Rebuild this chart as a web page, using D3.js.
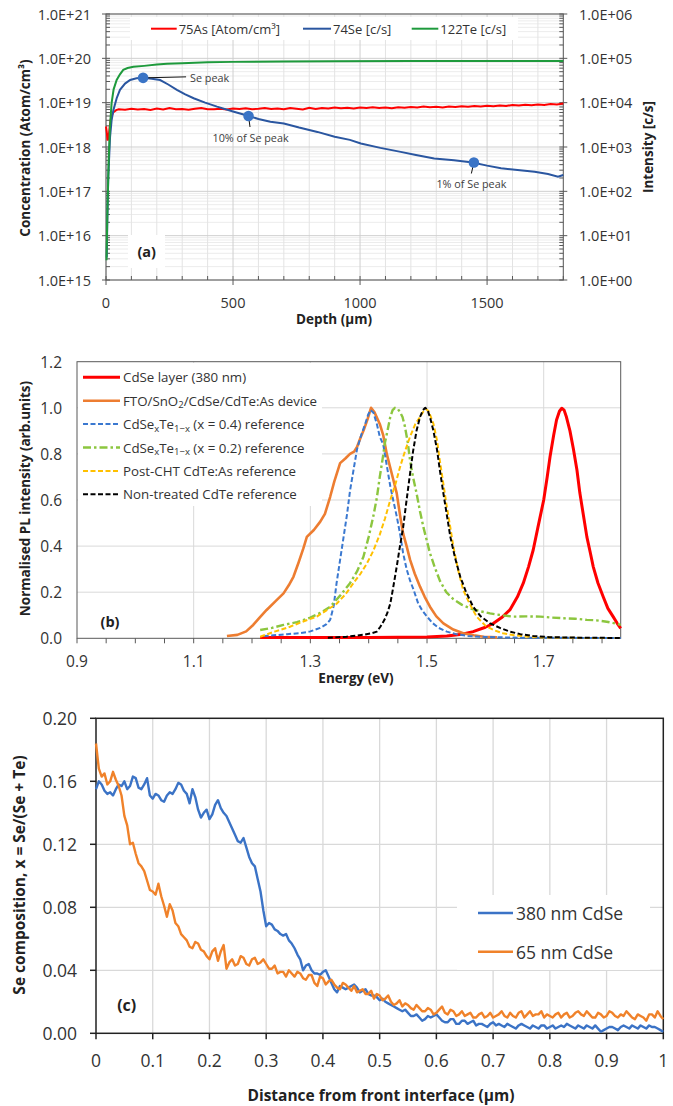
<!DOCTYPE html>
<html><head><meta charset="utf-8">
<script src="https://cdn.jsdelivr.net/npm/d3@7"></script>
<style>body{margin:0;background:#fff}svg{display:block}text{font-family:"Open Sans",sans-serif}</style>
</head><body><svg id="c" width="673" height="1106"></svg>
<script>
// ---------------- DATA ----------------
// Panel (a): SIMS depth profile  [depth, value]
const asProfile = [[0,2.9e18],[3,2.2e18],[6,1.4e18],[10,1.6e18],[15,3.0e18],[20,4.6e18],[28,6.0e18],[40,6.8e18],[50,7.1e18],
 [75,6.9e18],[100,7.3e18],[125,7.0e18],[150,7.2e18],[175,6.8e18],[200,7.4e18],[225,7.0e18],[250,7.6e18],[275,7.1e18],[300,7.2e18],
 [325,6.9e18],[350,7.3e18],[375,7.6e18],[400,7.1e18],[425,7.1e18],[450,7.3e18],[475,7.0e18],[500,7.4e18],[525,7.2e18],[550,7.5e18],
 [575,7.1e18],[600,7.3e18],[625,7.6e18],[650,7.2e18],[675,7.4e18],[700,7.1e18],[725,7.6e18],[750,7.3e18],[775,7.0e18],[800,7.7e18],
 [825,7.2e18],[850,7.6e18],[875,7.4e18],[900,7.8e18],[925,7.5e18],[950,7.7e18],[975,7.4e18],[1000,7.8e18],[1025,7.6e18],[1050,7.9e18],
 [1075,7.6e18],[1100,7.8e18],[1125,7.5e18],[1150,7.9e18],[1175,7.7e18],[1200,8.0e18],[1225,7.8e18],[1250,8.2e18],[1275,7.9e18],[1300,8.1e18],
 [1325,7.8e18],[1350,8.2e18],[1375,8.0e18],[1400,8.3e18],[1425,8.1e18],[1450,8.4e18],[1475,8.2e18],[1500,8.5e18],[1525,8.3e18],[1550,8.6e18],
 [1575,8.4e18],[1600,8.9e18],[1625,8.6e18],[1650,9.0e18],[1675,8.8e18],[1700,9.1e18],[1725,8.9e18],[1750,9.3e18],[1775,9.1e18],[1800,9.6e18]];
const seProfile = [[3,3.2],[5,20],[9,214],[16,1700],[22,4000],[29,6760],[42,12600],[55,19500],[75,26900],[95,32400],
 [120,35500],[147,36300],[180,34700],[213,32400],[245,25700],[279,19500],[310,15500],[345,12600],[390,10000],[437,8130],
 [500,6310],[562,5010],[600,4270],[647,3720],[700,3390],[760,2750],[832,2190],[900,1700],[960,1450],[1003,1200],
 [1080,955],[1160,776],[1220,661],[1292,550],[1370,501],[1443,447],[1500,380],[1555,331],[1620,302],[1687,275],
 [1740,245],[1779,214],[1800,234]];
const teProfile = [[2,2.8],[5,25],[10,400],[15,2500],[22,9770],[30,20000],[42,32400],[55,43600],[68,55000],[85,60300],
 [108,64600],[150,67600],[200,72400],[240,75900],[300,77600],[400,81300],[500,83200],[700,85100],[900,86100],[1200,87100],[1500,87100],[1800,87100]];
const seMarkers = [[146,36300],[561,5000],[1448,447]];
const seMarkerLabels = ["Se peak","10% of Se peak","1% of Se peak"];
const legendA = ["75As [Atom/cm³]","74Se [c/s]","122Te [c/s]"];
const yTickLabelsA = ["1.0E+15","1.0E+16","1.0E+17","1.0E+18","1.0E+19","1.0E+20","1.0E+21"];
const y2TickLabelsA = ["1.0E+00","1.0E+01","1.0E+02","1.0E+03","1.0E+04","1.0E+05","1.0E+06"];
const xTicksA = [0,500,1000,1500];

// Panel (b): PL spectra [energy eV, normalised intensity]
const cdseLayer = [[1.214,0.003],[1.3,0.003],[1.4,0.004],[1.5,0.006],[1.534,0.01],[1.56,0.018],[1.579,0.029],[1.6,0.048],[1.614,0.065],
 [1.628,0.09],[1.642,0.123],[1.655,0.18],[1.665,0.239],[1.674,0.31],[1.682,0.383],[1.69,0.48],[1.7,0.6],[1.706,0.70],[1.711,0.79],
 [1.717,0.88],[1.722,0.947],[1.727,0.985],[1.731,0.998],[1.735,0.99],[1.739,0.96],[1.745,0.90],[1.751,0.82],[1.757,0.73],[1.762,0.63],
 [1.768,0.535],[1.774,0.44],[1.78,0.37],[1.785,0.31],[1.793,0.24],[1.802,0.18],[1.81,0.13],[1.819,0.094],[1.826,0.065],[1.832,0.043]];
const device = [[1.157,0.01],[1.175,0.015],[1.19,0.03],[1.202,0.058],[1.213,0.09],[1.225,0.123],[1.24,0.16],[1.254,0.195],[1.263,0.23],
 [1.271,0.267],[1.28,0.33],[1.288,0.39],[1.294,0.44],[1.306,0.47],[1.317,0.506],[1.325,0.54],[1.334,0.614],[1.341,0.68],[1.351,0.76],
 [1.36,0.78],[1.368,0.80],[1.375,0.81],[1.38,0.83],[1.386,0.87],[1.391,0.90],[1.398,0.95],[1.404,1.0],[1.41,0.98],[1.419,0.93],
 [1.425,0.88],[1.431,0.80],[1.437,0.74],[1.442,0.69],[1.448,0.63],[1.454,0.53],[1.459,0.455],[1.465,0.40],[1.471,0.34],[1.479,0.28],
 [1.488,0.224],[1.496,0.18],[1.505,0.137],[1.516,0.095],[1.528,0.065],[1.545,0.038],[1.562,0.022],[1.58,0.013],[1.597,0.007],[1.62,0.004]];
const ref04 = [[1.22,0.01],[1.242,0.014],[1.26,0.018],[1.282,0.022],[1.3,0.03],[1.317,0.045],[1.327,0.06],[1.334,0.08],[1.34,0.14],
 [1.345,0.24],[1.351,0.34],[1.357,0.44],[1.363,0.54],[1.368,0.64],[1.374,0.73],[1.38,0.82],[1.387,0.88],[1.394,0.93],[1.399,0.97],
 [1.403,0.99],[1.408,0.98],[1.414,0.93],[1.419,0.875],[1.425,0.84],[1.431,0.75],[1.437,0.66],[1.442,0.60],[1.448,0.53],[1.454,0.45],
 [1.459,0.37],[1.465,0.30],[1.471,0.25],[1.477,0.21],[1.485,0.15],[1.492,0.12],[1.5,0.094],[1.51,0.065],[1.52,0.045],[1.534,0.029],
 [1.55,0.018],[1.57,0.01],[1.6,0.006],[1.65,0.003],[1.7,0.002],[1.75,0.002],[1.8,0.001],[1.832,0.001]];
const ref02 = [[1.214,0.036],[1.234,0.045],[1.254,0.058],[1.277,0.07],[1.3,0.09],[1.317,0.11],[1.334,0.137],[1.351,0.185],[1.368,0.239],
 [1.38,0.29],[1.391,0.354],[1.4,0.44],[1.408,0.53],[1.414,0.61],[1.419,0.70],[1.424,0.78],[1.428,0.85],[1.433,0.91],[1.437,0.96],
 [1.441,0.99],[1.445,1.0],[1.45,0.995],[1.454,0.98],[1.458,0.96],[1.462,0.92],[1.467,0.85],[1.471,0.77],[1.476,0.70],[1.482,0.63],
 [1.488,0.55],[1.494,0.48],[1.5,0.42],[1.505,0.37],[1.513,0.31],[1.522,0.25],[1.533,0.2],[1.545,0.17],[1.56,0.145],[1.574,0.13],
 [1.59,0.118],[1.608,0.108],[1.628,0.1],[1.648,0.094],[1.67,0.095],[1.694,0.094],[1.714,0.09],[1.734,0.087],[1.754,0.085],[1.774,0.08],
 [1.79,0.078],[1.808,0.072],[1.82,0.066],[1.832,0.058]];
const postCHT = [[1.214,0.007],[1.24,0.03],[1.265,0.05],[1.29,0.075],[1.311,0.094],[1.33,0.125],[1.345,0.15],[1.36,0.19],[1.374,0.24],
 [1.386,0.28],[1.397,0.325],[1.408,0.38],[1.419,0.45],[1.428,0.52],[1.437,0.6],[1.446,0.67],[1.454,0.745],[1.462,0.81],[1.471,0.875],
 [1.48,0.93],[1.488,0.96],[1.494,0.985],[1.498,0.995],[1.503,0.985],[1.511,0.93],[1.517,0.86],[1.522,0.77],[1.528,0.67],[1.534,0.57],
 [1.54,0.48],[1.545,0.40],[1.553,0.30],[1.562,0.21],[1.573,0.15],[1.585,0.094],[1.6,0.055],[1.614,0.036],[1.63,0.022],[1.648,0.014],
 [1.67,0.008],[1.7,0.004],[1.75,0.002],[1.8,0.001],[1.832,0.001]];
const nonTreated = [[1.33,0.002],[1.362,0.007],[1.39,0.015],[1.405,0.022],[1.414,0.029],[1.42,0.05],[1.427,0.08],[1.432,0.11],[1.437,0.15],
 [1.442,0.22],[1.448,0.31],[1.453,0.39],[1.459,0.48],[1.465,0.60],[1.471,0.716],[1.476,0.81],[1.482,0.90],[1.488,0.96],[1.493,0.99],
 [1.497,1.0],[1.501,0.99],[1.505,0.96],[1.511,0.90],[1.517,0.82],[1.522,0.73],[1.528,0.63],[1.534,0.535],[1.54,0.44],[1.548,0.35],
 [1.557,0.267],[1.567,0.2],[1.579,0.137],[1.592,0.095],[1.608,0.065],[1.625,0.045],[1.642,0.029],[1.66,0.018],[1.682,0.01],[1.71,0.005],
 [1.75,0.003],[1.8,0.002],[1.832,0.001]];
const legendB = ["CdSe layer (380 nm)","FTO/SnO_2_/CdSe/CdTe:As device","CdSe_x_Te_1−x_ (x = 0.4) reference",
 "CdSe_x_Te_1−x_ (x = 0.2) reference","Post-CHT CdTe:As reference","Non-treated CdTe reference"];
const yTicksB = [0,0.2,0.4,0.6,0.8,1.0,1.2];
const yTickLabelsB = ["0.0","0.2","0.4","0.6","0.8","1.0","1.2"];
const xTicksB = [0.9,1.1,1.3,1.5,1.7];
const xTickLabelsB = ["0.9","1.1","1.3","1.5","1.7"];

// Panel (c): Se composition vs distance (µm)
const distance = [
 0,0.005,0.01,0.015,0.02,0.025,0.03,0.035,0.04,0.045,0.05,0.055,0.06,0.065,0.07,0.075,0.08,0.085,0.09,0.095,
 0.10,0.105,0.11,0.115,0.12,0.125,0.13,0.135,0.14,0.145,0.15,0.155,0.16,0.165,0.17,0.175,0.18,0.185,0.19,0.195,
 0.20,0.205,0.21,0.215,0.22,0.225,0.23,0.235,0.24,0.245,0.25,0.255,0.26,0.265,0.27,0.275,0.28,0.285,0.29,0.295,
 0.30,0.305,0.31,0.315,0.32,0.325,0.33,0.335,0.34,0.345,0.35,0.355,0.36,0.365,0.37,0.375,0.38,0.385,0.39,0.395,
 0.40,0.405,0.41,0.415,0.42,0.425,0.43,0.435,0.44,0.445,0.45,0.455,0.46,0.465,0.47,0.475,0.48,0.485,0.49,0.495,
 0.50,0.505,0.51,0.515,0.52,0.525,0.53,0.535,0.54,0.545,0.55,0.555,0.56,0.565,0.57,0.575,0.58,0.585,0.59,0.595,
 0.60,0.605,0.61,0.615,0.62,0.625,0.63,0.635,0.64,0.645,0.65,0.655,0.66,0.665,0.67,0.675,0.68,0.685,0.69,0.695,
 0.70,0.705,0.71,0.715,0.72,0.725,0.73,0.735,0.74,0.745,0.75,0.755,0.76,0.765,0.77,0.775,0.78,0.785,0.79,0.795,
 0.80,0.805,0.81,0.815,0.82,0.825,0.83,0.835,0.84,0.845,0.85,0.855,0.86,0.865,0.87,0.875,0.88,0.885,0.89,0.895,
 0.90,0.905,0.91,0.915,0.92,0.925,0.93,0.935,0.94,0.945,0.95,0.955,0.96,0.965,0.97,0.975,0.98,0.985,0.99,0.995,1.00];
const cdse380 = [
 0.155,0.160,0.158,0.154,0.152,0.153,0.151,0.155,0.158,0.157,0.160,0.155,0.157,0.163,0.162,0.156,0.155,0.158,0.162,0.151,
 0.149,0.152,0.151,0.148,0.147,0.151,0.153,0.152,0.155,0.159,0.158,0.154,0.152,0.146,0.155,0.150,0.142,0.137,0.140,0.142,
 0.136,0.139,0.145,0.148,0.143,0.140,0.138,0.134,0.130,0.126,0.122,0.121,0.124,0.118,0.112,0.108,0.106,0.098,0.090,0.078,
 0.068,0.070,0.069,0.066,0.065,0.063,0.062,0.063,0.059,0.057,0.054,0.050,0.047,0.040,0.043,0.044,0.040,0.038,0.038,0.037,
 0.039,0.040,0.036,0.032,0.028,0.026,0.030,0.029,0.028,0.029,0.030,0.031,0.029,0.026,0.027,0.028,0.025,0.024,0.024,0.023,
 0.021,0.022,0.020,0.019,0.018,0.017,0.016,0.015,0.014,0.015,0.013,0.011,0.011,0.012,0.010,0.008,0.009,0.011,0.010,0.011,
 0.012,0.010,0.008,0.007,0.007,0.009,0.009,0.006,0.006,0.008,0.008,0.006,0.007,0.008,0.005,0.006,0.006,0.005,0.004,0.006,
 0.007,0.005,0.006,0.005,0.004,0.006,0.005,0.004,0.003,0.005,0.006,0.005,0.004,0.003,0.005,0.004,0.003,0.005,0.005,0.003,
 0.004,0.005,0.003,0.004,0.005,0.004,0.006,0.005,0.004,0.003,0.005,0.004,0.003,0.005,0.004,0.003,0.005,0.003,0.001,0.002,
 0.003,0.004,0.004,0.003,0.002,0.004,0.005,0.004,0.003,0.005,0.004,0.003,0.005,0.004,0.003,0.005,0.004,0.004,0.003,0.002,0.001];
const cdse65 = [
 0.184,0.168,0.163,0.165,0.158,0.160,0.166,0.161,0.157,0.151,0.138,0.132,0.120,0.121,0.114,0.108,0.106,0.103,0.097,0.091,
 0.090,0.088,0.095,0.087,0.081,0.074,0.082,0.078,0.070,0.068,0.063,0.061,0.059,0.055,0.054,0.058,0.057,0.053,0.052,0.049,
 0.047,0.052,0.054,0.046,0.052,0.056,0.041,0.045,0.047,0.043,0.044,0.049,0.048,0.044,0.043,0.047,0.048,0.044,0.045,0.047,
 0.044,0.041,0.041,0.043,0.038,0.039,0.039,0.036,0.040,0.038,0.036,0.039,0.038,0.035,0.034,0.037,0.037,0.032,0.030,0.036,
 0.035,0.031,0.033,0.034,0.031,0.029,0.028,0.032,0.031,0.029,0.027,0.030,0.026,0.027,0.028,0.025,0.025,0.027,0.022,0.025,
 0.024,0.021,0.022,0.024,0.020,0.018,0.019,0.021,0.017,0.019,0.018,0.016,0.015,0.018,0.016,0.014,0.014,0.016,0.015,0.012,
 0.013,0.015,0.017,0.013,0.012,0.015,0.014,0.011,0.012,0.014,0.011,0.012,0.013,0.010,0.010,0.012,0.013,0.010,0.011,0.013,
 0.010,0.011,0.012,0.014,0.011,0.010,0.013,0.011,0.010,0.013,0.014,0.010,0.012,0.014,0.011,0.012,0.012,0.014,0.010,0.012,
 0.011,0.010,0.012,0.013,0.010,0.012,0.013,0.010,0.011,0.013,0.014,0.012,0.011,0.014,0.012,0.010,0.010,0.013,0.012,0.010,
 0.011,0.014,0.013,0.011,0.010,0.012,0.011,0.014,0.012,0.010,0.009,0.012,0.011,0.010,0.008,0.012,0.012,0.010,0.014,0.011,0.009];
const legendC = ["380 nm CdSe","65 nm CdSe"];
const yTicksC = [0,0.04,0.08,0.12,0.16,0.20];
const yTickLabelsC = ["0.00","0.04","0.08","0.12","0.16","0.20"];
const xTicksC = [0,0.1,0.2,0.3,0.4,0.5,0.6,0.7,0.8,0.9,1];
const xTickLabelsC = ["0","0.1","0.2","0.3","0.4","0.5","0.6","0.7","0.8","0.9","1"];

// ---------------- DRAW ----------------
const svg = d3.select("#c");
svg.append("rect").attr("width",673).attr("height",1106).attr("fill","#fff");
const TXT = "#333";
function txt(g,x,y,s,opt={}){
  const t=g.append("text").attr("x",x).attr("y",y).attr("fill",opt.fill||TXT)
    .attr("font-size",opt.size||14).attr("text-anchor",opt.anchor||"start")
    .attr("dominant-baseline","central").text(s);
  if(opt.bold) t.attr("font-weight","bold");
  if(opt.rotate) t.attr("transform",`rotate(-90,${x},${y})`);
  return t;
}
function hline(g,x1,x2,y,c,w){g.append("line").attr("x1",x1).attr("x2",x2).attr("y1",y).attr("y2",y).attr("stroke",c).attr("stroke-width",w||1);}
function vline(g,x,y1,y2,c,w){g.append("line").attr("x1",x).attr("x2",x).attr("y1",y1).attr("y2",y2).attr("stroke",c).attr("stroke-width",w||1);}

// ===== Panel (a) =====
{
const P={l:106,r:563.3,t:14,b:280};
const x=d3.scaleLinear().domain([0,1800]).range([P.l,P.r]);
const y=d3.scaleLog().domain([1e15,1e21]).range([P.b,P.t]);
const y2=d3.scaleLog().domain([1,1e6]).range([P.b,P.t]);
const g=svg.append("g");
const isMaj=v=>Math.abs(Math.log10(v)-Math.round(Math.log10(v)))<1e-6;
y.ticks().forEach(v=>{ if(!isMaj(v)) hline(g,P.l,P.r,y(v),"#ececec"); });
x.ticks(18).forEach(v=>{ if(v%500!==0) vline(g,x(v),P.t,P.b,"#e3e3e3"); });
y.ticks().forEach(v=>{ if(isMaj(v)) hline(g,P.l,P.r,y(v),"#cfcfcf"); });
x.ticks(18).forEach(v=>{ if(v%500===0) vline(g,x(v),P.t,P.b,"#cfcfcf"); });
g.append("rect").attr("x",130).attr("y",17).attr("width",388).attr("height",23).attr("fill","#fff");
g.append("rect").attr("x",128).attr("y",235).attr("width",37).attr("height",33).attr("fill","#fff");
g.append("rect").attr("x",P.l).attr("y",P.t).attr("width",P.r-P.l).attr("height",P.b-P.t).attr("fill","none").attr("stroke","#595959");
y.ticks().forEach(v=>{ const yy=y(v); hline(g,P.l+(isMaj(v)?-4:0),P.l+4,yy,"#595959"); hline(g,P.r-4,P.r+(isMaj(v)?4:0),yy,"#595959"); });
x.ticks(18).forEach(v=>{ vline(g,x(v),P.b-4,P.b+(v%500===0?5:0),"#595959"); });
y.ticks().filter(isMaj).forEach((v,i)=>{ txt(g,91,y(v),yTickLabelsA[i],{size:14.5,anchor:"end"}); });
y2.ticks().filter(isMaj).forEach((v,i)=>{ txt(g,579,y2(v),y2TickLabelsA[i],{size:14.5}); });
xTicksA.forEach(v=>txt(g,x(v),302,String(v),{size:14.5,anchor:"middle"}));
txt(g,25,148,"Concentration (Atom/cm³)",{size:13.5,bold:true,anchor:"middle",rotate:true,fill:"#222"});
txt(g,648,147,"Intensity [c/s]",{size:13.5,bold:true,anchor:"middle",rotate:true,fill:"#222"});
txt(g,334,319,"Depth (µm)",{size:13.5,bold:true,anchor:"middle",fill:"#222"});
txt(g,146.7,251.7,"(a)",{size:14.5,bold:true,anchor:"middle",fill:"#222"});
const cols=["#ff0000","#2a56a0","#1e9a3c"];
const lnL=d3.line().x(d=>x(d[0])).y(d=>y(d[1]));
const lnR=d3.line().x(d=>x(d[0])).y(d=>y2(d[1]));
g.append("path").attr("d",lnL(asProfile)).attr("fill","none").attr("stroke",cols[0]).attr("stroke-width",2);
g.append("path").attr("d",lnR(seProfile)).attr("fill","none").attr("stroke",cols[1]).attr("stroke-width",2);
g.append("path").attr("d",lnR(teProfile)).attr("fill","none").attr("stroke",cols[2]).attr("stroke-width",2);
seMarkers.forEach((m,i)=>{
  const mx=x(m[0]), my=y2(m[1]);
  if(i===0){ g.append("line").attr("x1",mx).attr("y1",my).attr("x2",mx+43).attr("y2",my-1).attr("stroke","#111");
    txt(g,mx+47,my,seMarkerLabels[i],{size:10.8,fill:"#404040"}); }
  else { g.append("line").attr("x1",mx).attr("y1",my).attr("x2",mx+(i===1?1.5:-2.5)).attr("y2",my+11).attr("stroke","#111");
    txt(g,mx+(i===1?2:-2.5),my+21,seMarkerLabels[i],{size:10.8,fill:"#404040",anchor:"middle"}); }
  g.append("circle").attr("cx",mx).attr("cy",my).attr("r",5.3).attr("fill","#3a74c6");
});
const lx=[[151,176.7],[303,331],[411.7,438.3]];
legendA.forEach((s,i)=>{ hline(g,lx[i][0],lx[i][1],28.7,cols[i],2); txt(g,lx[i][1]+2,28.7,s,{size:13}); });
}

// ===== Panel (b) =====
{
const P={l:77,r:620.7,t:361.7,b:638.3};
const x=d3.scaleLinear().domain([0.9,1.832]).range([P.l,P.r]);
const y=d3.scaleLinear().domain([0,1.2]).range([P.b,P.t]);
const g=svg.append("g");
yTicksB.slice(1,-1).forEach(v=>hline(g,P.l,P.r,y(v),"#d9d9d9"));
xTicksB.slice(1).forEach(v=>vline(g,x(v),P.t,P.b,"#d9d9d9"));
g.append("rect").attr("x",78).attr("y",363).attr("width",244).attr("height",143).attr("fill","#fff");
g.append("rect").attr("x",P.l).attr("y",P.t).attr("width",P.r-P.l).attr("height",P.b-P.t).attr("fill","none").attr("stroke","#595959");
d3.range(0,19).forEach(k=>{ const v=0.9+k*0.05; vline(g,x(v),P.b,P.b+5,"#595959"); });
yTicksB.forEach((v,i)=>txt(g,62,y(v),yTickLabelsB[i],{size:15.5,anchor:"end"}));
xTicksB.forEach((v,i)=>txt(g,x(v),661,xTickLabelsB[i],{size:15.5,anchor:"middle"}));
txt(g,25,498.5,"Normalised PL intensity (arb.units)",{size:13.5,bold:true,anchor:"middle",rotate:true,fill:"#222"});
txt(g,356,678,"Energy (eV)",{size:13.5,bold:true,anchor:"middle",fill:"#222"});
txt(g,110,621.7,"(b)",{size:14.5,bold:true,anchor:"middle",fill:"#222"});
const series=[cdseLayer,device,ref04,ref02,postCHT,nonTreated];
const cols=["#ff0000","#ed7d31","#3a78d0","#8cc63f","#ffc000","#000000"];
const widths=[3,2.6,2,2.4,2,2];
const dashes=[null,null,"5,2.5","8,3,2.5,3","5,2.5","5,2.5"];
const ln=d3.line().x(d=>x(d[0])).y(d=>y(d[1]));
series.forEach((s,i)=>{ const p=g.append("path").attr("d",ln(s)).attr("fill","none").attr("stroke",cols[i]).attr("stroke-width",widths[i]).attr("stroke-linejoin","round");
  if(dashes[i]) p.attr("stroke-dasharray",dashes[i]); });
legendB.forEach((s,i)=>{
  const yy=377.3+i*23.4;
  const l=g.append("line").attr("x1",83).attr("x2",120).attr("y1",yy).attr("y2",yy).attr("stroke",cols[i]).attr("stroke-width",widths[i]);
  if(dashes[i]) l.attr("stroke-dasharray",dashes[i]);
  const t=g.append("text").attr("x",123).attr("y",yy).attr("dominant-baseline","central").attr("font-size",13.3).attr("fill",TXT);
  s.split("_").forEach((part,k)=>{
    if(!part) return;
    const ts=t.append("tspan").text(part);
    if(k%2===1) ts.attr("font-size",9.5).attr("dy",3.5);
    else if(k>0) ts.attr("dy",-3.5);
  });
});
}

// ===== Panel (c) =====
{
const P={l:96,r:663.3,t:718.3,b:1033.3};
const x=d3.scaleLinear().domain([0,1]).range([P.l,P.r]);
const y=d3.scaleLinear().domain([0,0.2]).range([P.b,P.t]);
const g=svg.append("g");
yTicksC.slice(1,-1).forEach(v=>hline(g,P.l,P.r,y(v),"#d9d9d9",1.3));
xTicksC.slice(1,-1).forEach(v=>vline(g,x(v),P.t,P.b,"#d9d9d9",1.3));
g.append("rect").attr("x",P.l).attr("y",P.t).attr("width",P.r-P.l).attr("height",P.b-P.t).attr("fill","none").attr("stroke","#222").attr("stroke-width",1.5);
yTicksC.forEach((v,i)=>{ hline(g,P.l-6,P.l,y(v),"#222",1.5); txt(g,77,y(v),yTickLabelsC[i],{size:17.5,anchor:"end"}); });
xTicksC.forEach((v,i)=>{ vline(g,x(v),P.b,P.b+6,"#222",1.5); txt(g,x(v),1060,xTickLabelsC[i],{size:17.5,anchor:"middle"}); });
txt(g,19,875,"Se composition, x = Se/(Se + Te)",{size:15.5,bold:true,anchor:"middle",rotate:true,fill:"#222"});
txt(g,381,1095,"Distance from front interface (µm)",{size:15.5,bold:true,anchor:"middle",fill:"#222"});
txt(g,126.7,1005,"(c)",{size:16,bold:true,anchor:"middle",fill:"#222"});
const cols=["#3b73c6","#f0822a"];
const ln=d3.line().x(d=>x(d[0])).y(d=>y(d[1]));
[cdse380,cdse65].forEach((s,i)=>{
  g.append("path").attr("d",ln(distance.map((d,k)=>[d,s[k]]))).attr("fill","none").attr("stroke",cols[i]).attr("stroke-width",2.4).attr("stroke-linejoin","round");
});
g.append("rect").attr("x",457).attr("y",895).attr("width",193).attr("height",75).attr("fill","#fff");
legendC.forEach((s,i)=>{ const yy=913+i*38.7; hline(g,478,513,yy,cols[i],2.6); txt(g,516,yy,s,{size:17.5}); });
}
</script></body></html>
